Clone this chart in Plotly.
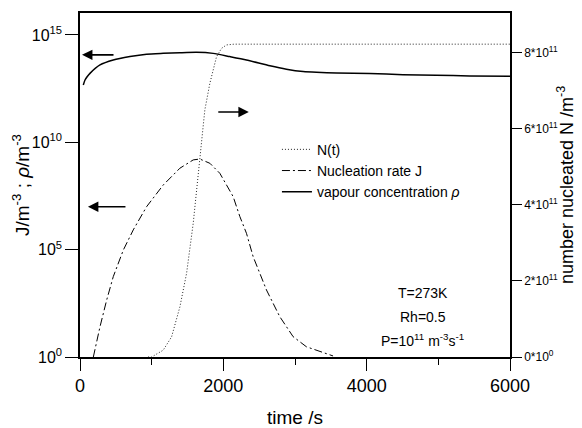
import plotly.graph_objects as go

# ---- data ----
t_rho = [46, 70, 102, 139, 279, 464, 697, 929, 1161, 1394, 1626, 1858, 2090, 2323,
         2650, 2880, 3113, 3300, 3577, 4042, 4506, 4971, 5436, 6000]
rho = [4.68e12, 7.94e12, 1.15e13, 1.62e13, 3.98e13, 6.76e13, 9.77e13, 1.26e14, 1.38e14,
       1.48e14, 1.55e14, 1.38e14, 9.77e13, 6.76e13, 3.63e13, 2.51e13, 1.95e13, 1.80e13,
       1.70e13, 1.58e13, 1.41e13, 1.32e13, 1.23e13, 1.20e13]

t_J = [186, 279, 372, 464, 604, 743, 929, 1161, 1394, 1580, 1672, 1812, 1951, 2137,
       2230, 2323, 2416, 2509, 2602, 2787, 2973, 3159, 3345, 3531]
J = [1.0, 25.7, 447, 5.5e3, 9.5e4, 8.3e5, 1.0e7, 1.02e8, 6.2e8, 1.51e9, 1.66e9, 1.05e9,
     3.6e8, 2.95e7, 3.5e6, 5.75e5, 4.7e4, 7.9e3, 1.32e3, 76, 8.9, 3.0, 1.8, 1.12]

t_N = [950, 999, 1161, 1278, 1394, 1487, 1580, 1649, 1696, 1742, 1812, 1905, 1975,
       2044, 2150, 6000]
N = [0, 0, 1.8e10, 5.3e10, 1.32e11, 2.2e11, 3.52e11, 4.83e11, 5.71e11, 6.5e11, 7.2e11,
     7.9e11, 8.12e11, 8.21e11, 8.23e11, 8.23e11]

x_ticks = [0, 2000, 4000, 6000]
left_tickvals = [1, 1e5, 1e10, 1e15]
left_ticktext = ["10<sup>0</sup>", "10<sup>5</sup>", "10<sup>10</sup>", "10<sup>15</sup>"]
right_tickvals = [0, 2e11, 4e11, 6e11, 8e11]
right_ticktext = ["0*10<sup>0</sup>", "2*10<sup>11</sup>", "4*10<sup>11</sup>",
                  "6*10<sup>11</sup>", "8*10<sup>11</sup>"]

FONT = "Liberation Sans, Arial, Helvetica, sans-serif"

fig = go.Figure()
fig.add_trace(go.Scatter(x=t_N, y=N, mode="lines", name="N(t)", yaxis="y2",
                         line=dict(color="#222", width=1, dash="1px,2px")))
fig.add_trace(go.Scatter(x=t_J, y=J, mode="lines", name="Nucleation rate J",
                         line=dict(color="black", width=1, dash="8px,3px,2px,3px")))
fig.add_trace(go.Scatter(x=t_rho, y=rho, mode="lines",
                         name="vapour concentration <i>ρ</i>",
                         line=dict(color="black", width=1.5, shape="spline",
                                   smoothing=0.6)))

ann = []
# arrows (tip in data coords, tail offset in pixels)
for (ax_, ay_, x_, y_) in [(33, 0, 28, 14.07), (39, 0, 111, 7.0), (-32, 0, 2355, 11.41)]:
    ann.append(dict(x=x_, y=y_, xref="x", yref="y", ax=ax_, ay=ay_, text="",
                    showarrow=True, arrowhead=2, arrowsize=1.3, arrowwidth=1.6,
                    arrowcolor="black"))
for txt, yy in [("T=273K", 0.186), ("Rh=0.5", 0.116),
                ("P=10<sup>11</sup> m<sup>-3</sup>s<sup>-1</sup>", 0.049)]:
    ann.append(dict(x=4780, y=yy, xref="x", yref="paper", text=txt, showarrow=False,
                    font=dict(size=14, color="black", family=FONT),
                    xanchor="center", yanchor="middle"))
# axis titles
ann.append(dict(x=0.5, y=-0.177, xref="paper", yref="paper", text="time /s",
                showarrow=False, font=dict(size=19), xanchor="center", yanchor="middle"))
ann.append(dict(x=-0.137, y=0.5, xref="paper", yref="paper",
                text="J/m<sup>-3</sup> ; <i>ρ</i>/m<sup>-3</sup>", textangle=-90,
                showarrow=False, font=dict(size=19), xanchor="center", yanchor="middle"))
ann.append(dict(x=1.128, y=0.5, xref="paper", yref="paper",
                text="number nucleated N /m<sup>-3</sup>", textangle=-90,
                showarrow=False, font=dict(size=18), xanchor="center", yanchor="middle"))

# page body has an 8px margin, so the figure is 8px smaller than the window
fig.update_layout(
    width=574, height=420, autosize=False,
    margin=dict(l=72, r=72, t=5, b=71),
    plot_bgcolor="white", paper_bgcolor="white",
    font=dict(family=FONT, color="black"),
    showlegend=True,
    legend=dict(x=0.458, y=0.649, xanchor="left", yanchor="top",
                bgcolor="rgba(0,0,0,0)", font=dict(size=14, color="black", family=FONT)),
    annotations=ann,
    xaxis=dict(range=[0, 6000], tickvals=x_ticks, ticks="outside", ticklen=12,
               tickwidth=1, tickcolor="black", showline=True, linecolor="black",
               linewidth=1.5, mirror=True, showgrid=False, zeroline=False,
               tickfont=dict(size=18), automargin=False,
               minor=dict(tickvals=[1000, 3000, 5000], ticks="outside", ticklen=6,
                          tickcolor="black", showgrid=False)),
    yaxis=dict(type="log", range=[0, 16.02], tickvals=left_tickvals,
               ticktext=left_ticktext, ticks="outside", ticklen=13, tickcolor="black",
               showline=True, linecolor="black", linewidth=1.5, showgrid=False,
               zeroline=False, tickfont=dict(size=16), automargin=False),
    yaxis2=dict(overlaying="y", side="right", range=[0, 9.05e11],
                tickvals=right_tickvals, ticktext=right_ticktext, ticks="outside",
                ticklen=10, tickcolor="black", showline=True, linecolor="black",
                linewidth=1.5, showgrid=False, zeroline=False, automargin=False,
                tickfont=dict(size=12)),
)

fig.write_html("out.html")
